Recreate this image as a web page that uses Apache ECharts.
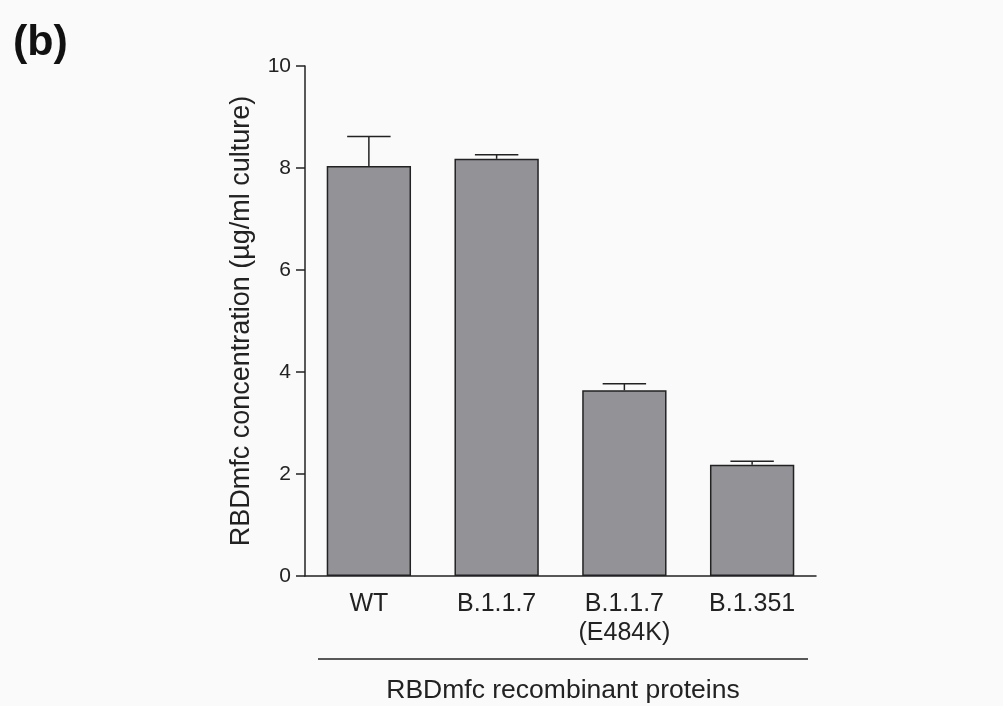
<!DOCTYPE html>
<html><head><meta charset="utf-8">
<script src="https://cdn.jsdelivr.net/npm/echarts@6/dist/echarts.min.js"></script>
<style>html,body{margin:0;padding:0;background:#fafafa;}#c{width:1003px;height:706px;}</style>
</head><body><div id="c"></div>
<script>
const categories = ['WT', 'B.1.1.7', 'B.1.1.7\n(E484K)', 'B.1.351'];
const means = [8.04, 8.18, 3.64, 2.18];
const errors = [0.58, 0.08, 0.13, 0.07];
const yTicks = [0, 2, 4, 6, 8, 10];

const chart = echarts.init(document.getElementById('c'));
const font = 'Liberation Sans, Arial, sans-serif';
chart.setOption({
  backgroundColor: '#fafafa',
  animation: false,
  grid: {left: 305, right: 187, top: 66, bottom: 130},
  xAxis: {
    type: 'category', data: categories,
    axisLine: {lineStyle: {color: '#222', width: 1.5}},
    axisTick: {alignWithLabel: true, length: 7, lineStyle: {color: '#222', width: 1.5}},
    axisLabel: {fontFamily: font, fontSize: 25, color: '#222', margin: 14, lineHeight: 29}
  },
  yAxis: {
    type: 'value', min: 0, max: 10, interval: 2,
    name: 'RBDmfc concentration (µg/ml culture)', nameLocation: 'middle', nameGap: 50,
    nameTextStyle: {fontFamily: font, fontSize: 27, color: '#222'},
    axisLine: {show: true, lineStyle: {color: '#222', width: 1.5}},
    axisTick: {show: true, length: 9, lineStyle: {color: '#222', width: 1.5}},
    splitLine: {show: false},
    axisLabel: {fontFamily: font, fontSize: 21, color: '#222', margin: 14,
      formatter: v => yTicks.includes(v) ? String(v) : ''}
  },
  series: [
    {
      type: 'bar', data: means, barWidth: '66%',
      itemStyle: {color: '#939297', borderColor: '#222', borderWidth: 1.5}
    },
    {
      type: 'custom',
      data: means.map((m, i) => [i, m, m + errors[i]]),
      renderItem: (params, api) => {
        const i = api.value(0);
        const p0 = api.coord([i, api.value(1)]);
        const p1 = api.coord([i, api.value(2)]);
        const hw = api.size([1, 0])[0] * 0.17;
        const st = {stroke: '#222', lineWidth: 1.5};
        return {type: 'group', children: [
          {type: 'line', shape: {x1: p0[0], y1: p0[1], x2: p1[0], y2: p1[1]}, style: st},
          {type: 'line', shape: {x1: p1[0] - hw, y1: p1[1], x2: p1[0] + hw, y2: p1[1]}, style: st}
        ]};
      },
      z: 3
    }
  ],
  graphic: [
    {type: 'text', left: 13, top: 22, style: {text: '(b)', fontFamily: font, fontSize: 43, fontWeight: 'bold', fill: '#111'}},
    {type: 'line', shape: {x1: 318, y1: 659, x2: 808, y2: 659}, style: {stroke: '#222', lineWidth: 1.5}},
    {type: 'text', x: 563, y: 691, style: {text: 'RBDmfc recombinant proteins', fontFamily: font, fontSize: 26.5, fill: '#222', textAlign: 'center', textVerticalAlign: 'middle'}}
  ]
});
</script></body></html>
